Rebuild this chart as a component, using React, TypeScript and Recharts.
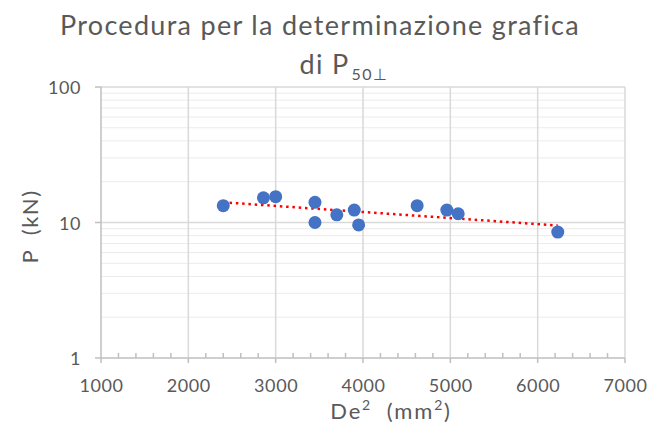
import React from "react";
import {
  CartesianGrid,
  Scatter,
  ScatterChart,
  XAxis,
  YAxis,
} from "recharts";

// diameter squared (mm²) and failure load (kN)
const deSquared = [2400, 2860, 3000, 3450, 3450, 3700, 3900, 3950, 4620, 4960, 5090, 6230];
const loadKN = [13.3, 15.2, 15.5, 14.1, 10.0, 11.4, 12.35, 9.6, 13.3, 12.35, 11.6, 8.5];

// dotted exponential trend line, ends only
const trendX = [2400, 6230];
const trendY = [14.1, 9.5];

const xTicks = [
  1000, 1200, 1400, 1600, 1800, 2000, 2200, 2400, 2600, 2800, 3000, 3200, 3400, 3600,
  3800, 4000, 4200, 4400, 4600, 4800, 5000, 5200, 5400, 5600, 5800, 6000, 6200, 6400,
  6600, 6800, 7000,
];
const xMajor = [1000, 2000, 3000, 4000, 5000, 6000, 7000];
const yMajor = [1, 10, 100];
const yMinor = [2, 3, 4, 5, 6, 7, 8, 9, 20, 30, 40, 50, 60, 70, 80, 90];

const points = deSquared.map((x, i) => ({ x, y: loadKN[i] }));
const trend = trendX.map((x, i) => ({ x, y: trendY[i] }));

const FONT = "Lato, 'Open Sans', sans-serif";
const TEXT = "#595959";
const AXIS = "#BFBFBF";

function XTick(props: any) {
  const { x, y, payload } = props;
  const major = xMajor.includes(payload.value);
  return (
    <g>
      {major ? (
        <line x1={x} x2={x} y1={y} y2={y + 5} stroke={AXIS} strokeWidth={1.5} />
      ) : (
        <line x1={x} x2={x} y1={y} y2={y - 5} stroke={AXIS} strokeWidth={1.5} />
      )}
      {major && (
        <text x={x + 0.5} y={y + 27} textAnchor="middle" dominantBaseline="central"
          fill={TEXT} fontSize={18} letterSpacing={0.6} fontFamily={FONT}>
          {payload.value}
        </text>
      )}
    </g>
  );
}

function YTick(props: any) {
  const { x, y, payload } = props;
  return (
    <g>
      <line x1={x - 6} x2={x} y1={y} y2={y} stroke={AXIS} strokeWidth={1.5} />
      <text x={x - 20} y={y} textAnchor="end" dominantBaseline="central"
        fill={TEXT} fontSize={18} letterSpacing={0.6} fontFamily={FONT}>
        {payload.value}
      </text>
    </g>
  );
}

const Dot = (props: any) => (
  <circle cx={props.cx} cy={props.cy} r={6.5} fill="#4472C4" />
);

export default function App() {
  return (
    <div style={{ position: "absolute", left: 0, top: 0, width: 661, height: 430, background: "#fff", fontFamily: FONT }}>
      <div style={{ position: "absolute", left: 0, width: 640, top: 5, textAlign: "center", color: TEXT, fontSize: 27, letterSpacing: 1.3, lineHeight: "39px", whiteSpace: "nowrap" }}>
        Procedura per la determinazione grafica
        <br />
        <span style={{ position: "relative", left: 24 }}>
          di P<sub style={{ fontSize: 16, letterSpacing: 1.5, marginLeft: 2 }}>50⊥</sub>
        </span>
      </div>
      <ScatterChart width={661} height={430} margin={{ top: 87, right: 36, left: 0, bottom: 0 }}>
        <CartesianGrid stroke="#EBEBEB" vertical={false} horizontalValues={yMinor} />
        <CartesianGrid stroke="#D9D9D9" strokeWidth={1.5} horizontalValues={[10, 100]} verticalValues={xMajor.slice(1)} />
        <XAxis
          type="number"
          dataKey="x"
          domain={[1000, 7000]}
          ticks={xTicks}
          interval={0}
          height={72}
          tickSize={0}
          tickMargin={0}
          tickLine={false}
          tick={<XTick />}
          axisLine={{ stroke: AXIS, strokeWidth: 1.5 }}
          label={{
            content: (p: any) => {
              const vb = p.viewBox;
              return (
                <text x={vb.x + vb.width / 2 + 28} y={vb.y + 61} textAnchor="middle"
                  fill={TEXT} fontSize={22} letterSpacing={1.8} fontFamily={FONT}>
                  De<tspan dy={-9} fontSize={14}>2</tspan>
                  <tspan dy={9}>{"\u00A0\u00A0(mm"}</tspan>
                  <tspan dy={-9} fontSize={14}>2</tspan>
                  <tspan dy={9}>)</tspan>
                </text>
              );
            },
          }}
        />
        <YAxis
          type="number"
          dataKey="y"
          scale="log"
          domain={[1, 100]}
          ticks={yMajor}
          interval={0}
          width={101}
          tickSize={0}
          tickMargin={0}
          tickLine={false}
          tick={<YTick />}
          allowDataOverflow
          axisLine={{ stroke: AXIS, strokeWidth: 1.5 }}
          label={{
            content: (p: any) => {
              const vb = p.viewBox;
              const cy = vb.y + vb.height / 2 + 4;
              return (
                <text x={29} y={cy} transform={`rotate(-90 29 ${cy})`} textAnchor="middle"
                  dominantBaseline="central" fill={TEXT} fontSize={22} letterSpacing={1.5} fontFamily={FONT}>
                  {"P\u00A0\u00A0(kN)"}
                </text>
              );
            },
          }}
        />
        <Scatter data={trend} isAnimationActive={false} shape={() => <g />}
          line={{ stroke: "#FF0000", strokeWidth: 2.5, strokeDasharray: "2.5 3.8" }} />
        <Scatter data={points} isAnimationActive={false} shape={<Dot />} />
      </ScatterChart>
    </div>
  );
}
